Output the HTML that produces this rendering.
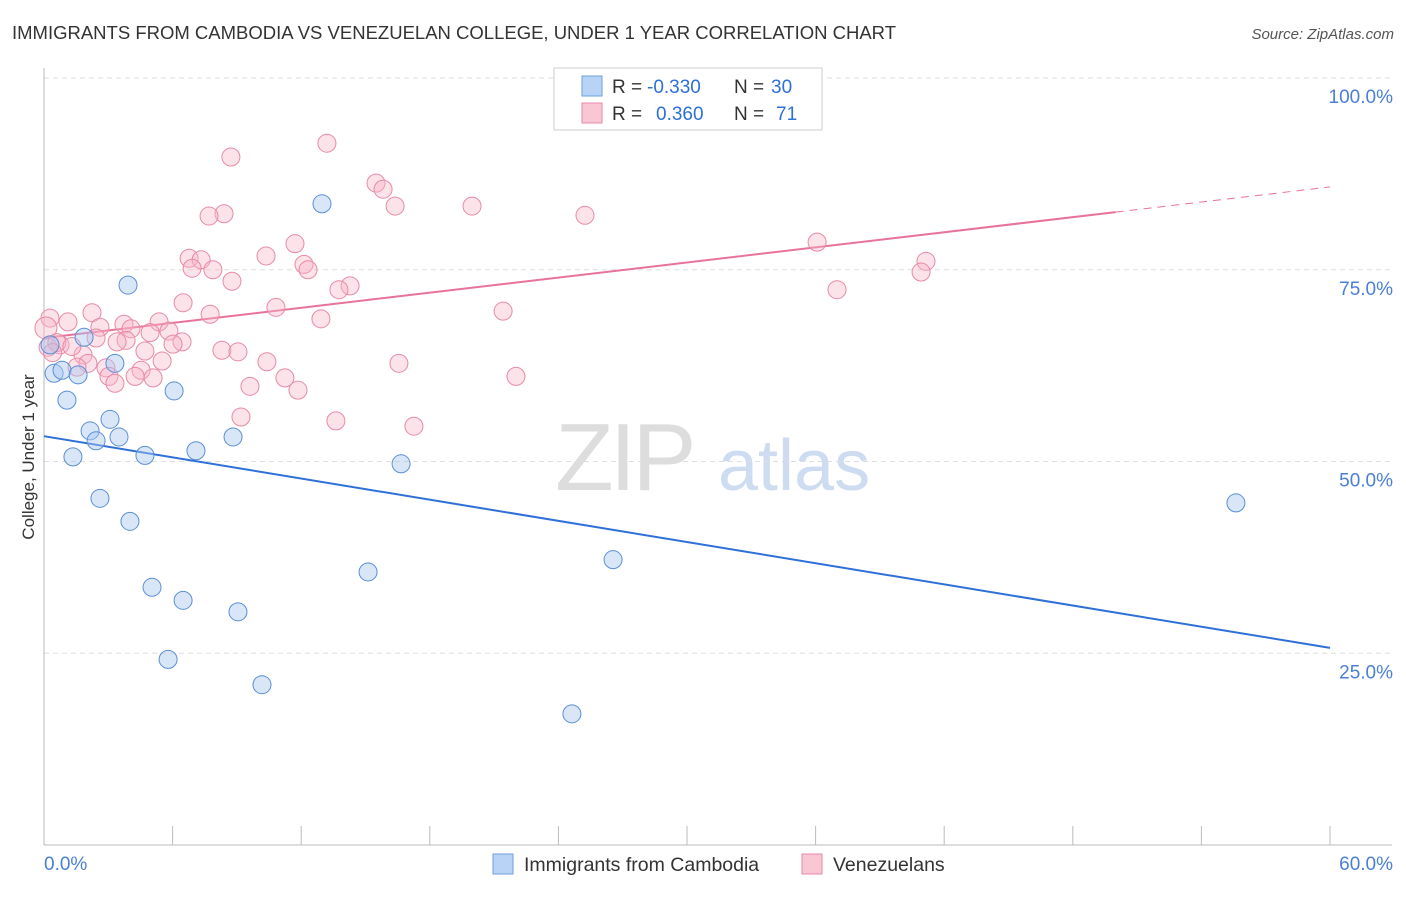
<!DOCTYPE html>
<html><head><meta charset="utf-8">
<style>
body{margin:0;background:#fff;font-family:"Liberation Sans",sans-serif;}
svg text{font-family:"Liberation Sans",sans-serif;}
</style></head>
<body>
<svg id="chart" width="1406" height="892" xmlns="http://www.w3.org/2000/svg">
<text x="12" y="39" font-size="18.5" fill="#333" textLength="884" lengthAdjust="spacingAndGlyphs">IMMIGRANTS FROM CAMBODIA VS VENEZUELAN COLLEGE, UNDER 1 YEAR CORRELATION CHART</text>
<text x="1394" y="39" font-size="15" fill="#555" font-style="italic" text-anchor="end">Source: ZipAtlas.com</text>
<g>
<text x="555" y="490" font-size="96" fill="#ddd" font-family="Liberation Serif" letter-spacing="-4">ZIP</text>
<text x="718" y="490" font-size="72" fill="#cddcf0">atlas</text>
</g>
<g id="grid"></g>
<g id="axes"></g>
<g id="lines"></g>
<g id="points"></g>
<text transform="translate(34,457) rotate(-90)" font-size="17" fill="#333" text-anchor="middle">College, Under 1 year</text>
<g>
<rect x="554" y="68" width="268" height="62" fill="#fff" stroke="#ccc"/>
<rect x="582" y="76" width="20" height="20" fill="#b8d3f5" stroke="#6e9fdd"/>
<rect x="582" y="103" width="20" height="20" fill="#f9c6d4" stroke="#e88aa8"/>
<text x="612" y="93" font-size="19" fill="#333">R =</text>
<text x="647" y="93" font-size="19" fill="#2e6fd8">-0.330</text>
<text x="734" y="93" font-size="19" fill="#333">N =</text>
<text x="771" y="93" font-size="19" fill="#2e6fd8">30</text>
<text x="612" y="120" font-size="19" fill="#333">R =</text>
<text x="656" y="120" font-size="19" fill="#2e6fd8">0.360</text>
<text x="734" y="120" font-size="19" fill="#333">N =</text>
<text x="776" y="120" font-size="19" fill="#2e6fd8">71</text>
</g>
<g>
<rect x="493" y="854" width="20" height="20" fill="#b8d3f5" stroke="#6e9fdd"/>
<text x="524" y="871" font-size="19.5" fill="#333">Immigrants from Cambodia</text>
<rect x="802" y="854" width="20" height="20" fill="#f9c6d4" stroke="#e88aa8"/>
<text x="833" y="871" font-size="19.5" fill="#333">Venezuelans</text>
</g>
</svg>
<script>
const blueX=[12.97,3.92,1.87,3.31,0.47,0.84,1.59,6.07,1.07,3.08,2.15,2.43,3.50,8.82,1.35,4.71,7.09,16.66,2.61,4.01,26.55,15.12,5.04,6.49,9.05,5.79,10.17,24.63,55.61,0.28];
const blueY=[83.6,73.0,66.2,62.8,61.5,61.9,61.3,59.2,58.0,55.5,54.0,52.7,53.2,53.2,50.6,50.8,51.4,49.7,45.2,42.2,37.2,35.6,33.6,31.9,30.4,24.2,20.9,17.1,44.6,65.2];
const pinkX=[13.20,8.72,15.49,15.82,16.38,19.97,25.24,8.40,7.70,36.07,11.71,10.36,6.77,7.33,41.15,40.92,12.13,12.32,6.91,7.88,8.77,14.28,13.76,37.00,6.49,10.82,21.42,7.75,2.24,12.92,0.28,1.12,3.73,2.61,4.06,5.37,5.83,4.95,2.43,3.83,3.41,6.44,6.02,0.75,0.19,8.30,9.05,4.71,1.82,5.51,10.40,16.56,2.05,2.89,4.53,1.54,3.03,4.25,22.02,5.09,11.24,3.31,9.61,11.85,9.19,13.62,17.26,0.09,0.6,1.3,0.4];
const pinkY=[91.5,89.7,86.3,85.5,83.3,83.3,82.1,82.3,82.0,78.6,78.4,76.8,76.5,76.3,76.1,74.7,75.7,75.0,75.2,75.0,73.5,72.9,72.4,72.4,70.7,70.1,69.6,69.2,69.4,68.6,68.7,68.2,67.9,67.5,67.3,68.2,67.0,66.8,66.1,65.8,65.6,65.6,65.3,65.2,64.9,64.5,64.3,64.4,63.9,63.1,63.0,62.8,62.8,62.2,61.9,62.3,61.1,61.1,61.1,60.9,60.9,60.2,59.8,59.3,55.8,55.3,54.6,67.4,65.5,65.0,64.2];
const blueTrend=[53.3,25.7];
const pinkTrend=[66.1,85.8];
const pinkSolidEnd=50.0;
const yTicks=[25,50,75,100];
const yTickLabels=["25.0%","50.0%","75.0%","100.0%"];
const xTicks=[0,6,12,18,24,30,36,42,48,54,60];
const xTickLabels=["0.0%","60.0%"];

const NS="http://www.w3.org/2000/svg";
const sx=v=>44+v/60*1286;
const sy=v=>845-v/100*767;
function mk(tag,attrs,parent){const e=document.createElementNS(NS,tag);for(const k in attrs)e.setAttribute(k,attrs[k]);parent.appendChild(e);return e;}
const grid=document.getElementById('grid'),axes=document.getElementById('axes'),lines=document.getElementById('lines'),pts=document.getElementById('points');
yTicks.forEach((t,i)=>{
  const l=mk('line',{x1:44,x2:1392,y1:sy(t),y2:sy(t),stroke:'#ddd','stroke-dasharray':'5,4'},grid);
  
  
  const tx=mk('text',{x:1393,y:sy(t)+25,'font-size':19,fill:'#4a7fd6','text-anchor':'end'},axes);
  tx.textContent=yTickLabels[i];
  
  
});
mk('line',{x1:44,x2:44,y1:68,y2:845,stroke:'#bbb'},axes);
mk('line',{x1:44,x2:1392,y1:845,y2:845,stroke:'#bbb'},axes);
xTicks.forEach(t=>{
  const l=mk('line',{x1:sx(t),x2:sx(t),y1:826,y2:845,stroke:'#bbb'},axes);
  
  
});
[[0,'start',44],[60,'end',1393]].forEach((d,i)=>{
  const tx=mk('text',{x:d[2],y:870,'font-size':19,fill:'#4a7fd6','text-anchor':d[1]},axes);
  tx.textContent=xTickLabels[i];
  
  
});
const py=x=>pinkTrend[0]+(pinkTrend[1]-pinkTrend[0])*x/60;
let l1=mk('line',{x1:sx(0),y1:sy(blueTrend[0]),x2:sx(60),y2:sy(blueTrend[1]),stroke:'#2e6fd8','stroke-width':2},lines);


let l2=mk('line',{x1:sx(0),y1:sy(py(0)),x2:sx(pinkSolidEnd),y2:sy(py(pinkSolidEnd)),stroke:'#e8729a','stroke-width':2},lines);


let l3=mk('line',{x1:sx(pinkSolidEnd),y1:sy(py(pinkSolidEnd)),x2:sx(60),y2:sy(py(60)),stroke:'#e8729a','stroke-width':1,'stroke-dasharray':'8,6'},lines);


pinkX.forEach((x,i)=>{
  const c=mk('circle',{cx:sx(x),cy:sy(pinkY[i]),r:i===67?11:9,fill:'rgba(247,182,200,0.4)',stroke:'#e88aa8','stroke-width':1},pts);
  
  
});
blueX.forEach((x,i)=>{
  const c=mk('circle',{cx:sx(x),cy:sy(blueY[i]),r:9,fill:'rgba(168,200,240,0.45)',stroke:'#5b8fd6','stroke-width':1},pts);
  
  
});
</script>
</body></html>
